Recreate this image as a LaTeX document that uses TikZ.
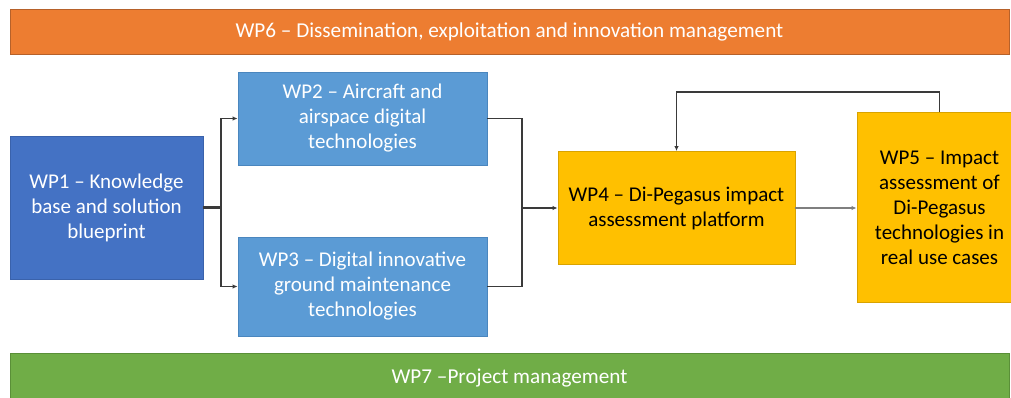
\documentclass[tikz,border=0pt]{standalone}
\usepackage{fontspec}
\setmainfont{Carlito}
\usetikzlibrary{arrows.meta}
\definecolor{wpone}{HTML}{4472C4}
\definecolor{wponeb}{HTML}{3A62AB}
\definecolor{wpblue}{HTML}{5B9BD5}
\definecolor{wpblueb}{HTML}{4A86BE}
\definecolor{wpyel}{HTML}{FFC000}
\definecolor{wpyelb}{HTML}{D9A300}
\definecolor{wporange}{HTML}{ED7D31}
\definecolor{wporangeb}{HTML}{B6612A}
\definecolor{wpgreen}{HTML}{70AD47}
\definecolor{wpgreenb}{HTML}{5A8F38}
\definecolor{linedark}{HTML}{3A3A3A}
\definecolor{linegray}{HTML}{7F7F7F}
\begin{document}
\begin{tikzpicture}[x=1pt,y=-1pt,
  box/.style={draw, line width=0.9pt, align=center, inner sep=0pt,
    font=\fontsize{21}{25}\selectfont},
  bar/.style={box, minimum width=999pt, text=white, font=\fontsize{21.2}{25}\selectfont},
  conn/.style={draw=linedark, line width=1.5pt},
  heavy/.style={draw=linedark, line width=2.6pt},
  tip/.style={-{Latex[length=5pt,width=4.5pt]}},
]
\useasboundingbox (0,0) rectangle (1011,398);
% bars
\node[bar, fill=wporange, draw=wporangeb, minimum height=45pt] (wp6) at (509.5,31.5)
  {WP6 – Dissemination, exploitation and innovation management};
\node[bar, fill=wpgreen, draw=wpgreenb, minimum height=50pt] (wp7) at (509.5,378)
  {WP7 –Project management};
% boxes
\node[box, fill=wpone, draw=wponeb, text=white, minimum width=193pt, minimum height=143pt] (wp1) at (106.5,207.5)
  {WP1 – Knowledge\\base and solution\\blueprint};
\node[box, fill=wpblue, draw=wpblueb, text=white, minimum width=249pt, minimum height=93pt] (wp2) at (362.5,118.5)
  {WP2 – Aircraft and\\airspace digital\\technologies};
\node[box, fill=wpblue, draw=wpblueb, text=white, minimum width=249pt, minimum height=99pt] (wp3) at (362.5,286.5)
  {WP3 – Digital innovative\\ground maintenance\\technologies};
\node[box, fill=wpyel, draw=wpyelb, text=black, minimum width=237pt, minimum height=113pt] (wp4) at (676.5,208)
  {WP4 – Di-Pegasus impact\\assessment platform};
\node[box, fill=wpyel, draw=wpyelb, text=black, minimum width=165pt, minimum height=190pt] (wp5) at (939.5,207.5)
  {WP5 – Impact\\assessment of\\Di-Pegasus\\technologies in\\real use cases};
% connectors
\coordinate (split) at (221,207.5);
\coordinate (merge) at (522,208);
\draw[heavy] (wp1.east) -- (split);
\draw[conn, tip] (split) |- (wp2.west);
\draw[conn, tip] (split) |- (wp3.west);
\draw[conn] (wp2.east) -| (merge);
\draw[conn] (wp3.east) -| (merge);
\draw[heavy, tip] (merge) -- (wp4.west);
\draw[draw=linegray, line width=2.4pt, tip] (wp4.east) -- (wp4.east -| wp5.west);
\draw[conn, tip] (wp5.north) -- ++(0,-20) -| (wp4.north);
\end{tikzpicture}
\end{document}
